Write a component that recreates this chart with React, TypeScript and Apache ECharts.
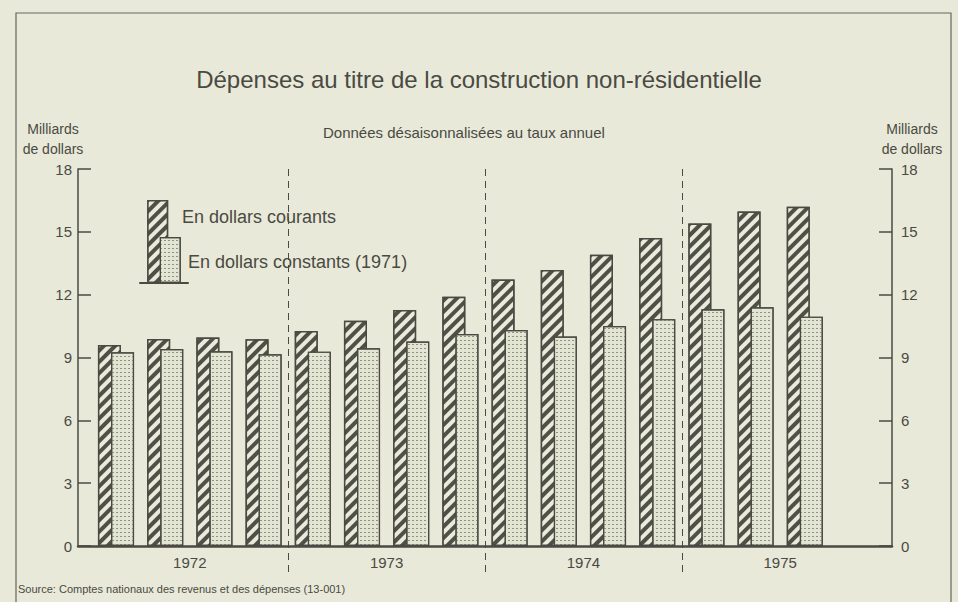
import { useEffect, useRef } from 'react';
import * as echarts from 'echarts';

// ---- data ----
const QUARTERS = [
  '1972 T1', '1972 T2', '1972 T3', '1972 T4',
  '1973 T1', '1973 T2', '1973 T3', '1973 T4',
  '1974 T1', '1974 T2', '1974 T3', '1974 T4',
  '1975 T1', '1975 T2', '1975 T3', '1975 T4',
];
const YEARS = ['1972', '1973', '1974', '1975'];
const COURANTS = [9.6, 9.88, 9.95, 9.87, 10.27, 10.75, 11.27, 11.9, 12.73, 13.18, 13.9, 14.7, 15.4, 15.97, 16.2, null];
const CONSTANTS = [9.25, 9.4, 9.3, 9.15, 9.28, 9.44, 9.76, 10.12, 10.31, 10.0, 10.5, 10.83, 11.3, 11.4, 10.95, null];
const Y_MIN = 0;
const Y_MAX = 18;
const Y_STEP = 3;

const TITLE = 'Dépenses au titre de la construction non-résidentielle';
const SUBTITLE = 'Données désaisonnalisées au taux annuel';
const UNIT = 'Milliards\nde dollars';
const LEGEND = ['En dollars courants', 'En dollars constants (1971)'];
const SOURCE = 'Source: Comptes nationaux des revenus et des dépenses (13-001)';

// ---- styles ----
const BG = '#e8e9d9';
const INK = '#4a4a43';
const DARK = '#505049';
const LIGHT = '#e3e5d3';
const FONT = '"Liberation Sans", Arial, sans-serif';

const hatchStyle = {
  color: DARK,
  borderColor: INK,
  borderWidth: 1.5,
  decal: {
    symbol: 'rect',
    symbolSize: 1,
    dashArrayX: [1, 0],
    dashArrayY: [3.6, 3.6],
    rotation: -Math.PI / 4,
    color: '#e9ebdb',
  },
};
const dotStyle = {
  color: LIGHT,
  borderColor: INK,
  borderWidth: 1.2,
  decal: {
    symbol: 'rect',
    symbolSize: 1,
    dashArrayX: [[2, 2]],
    dashArrayY: [1, 3],
    color: '#8f8f85',
  },
};

export default function App() {
  const ref = useRef<HTMLDivElement>(null);

  useEffect(() => {
    if (!ref.current) return;
    const chart = echarts.init(ref.current, undefined, { renderer: 'svg' });

    const yAxisCommon = {
      type: 'value',
      min: Y_MIN,
      max: Y_MAX,
      interval: Y_STEP,
      axisLine: { show: true, lineStyle: { color: INK, width: 1.5 } },
      axisTick: { show: true, inside: true, length: 13, lineStyle: { color: INK, width: 1.5 } },
      splitLine: { show: false },
    };

    chart.setOption({
      animation: false,
      backgroundColor: BG,
      textStyle: { fontFamily: FONT, color: INK },
      title: [
        {
          text: TITLE,
          left: 'center',
          top: 62,
          textStyle: { fontSize: 24, fontWeight: 'normal', color: INK, fontFamily: FONT },
        },
        {
          text: SUBTITLE,
          left: 318,
          top: 120,
          textStyle: { fontSize: 15, fontWeight: 'normal', color: INK, fontFamily: FONT },
        },
      ],
      grid: [
        { left: 78, right: 66, top: 169, bottom: 56 },
        { left: 91.4, right: 79.4, top: 169, bottom: 56 },
        { left: 91.4, right: 79.4, top: 169, bottom: 25 },
        { left: 140, top: 200, width: 48, height: 83 },
      ],
      xAxis: [
        {
          gridIndex: 0,
          type: 'category',
          data: [''],
          axisLine: { show: true, lineStyle: { color: INK, width: 2.5 } },
          axisTick: { show: false },
          axisLabel: { show: false },
        },
        { gridIndex: 1, type: 'category', data: QUARTERS, position: 'bottom', show: false },
        {
          gridIndex: 1,
          type: 'category',
          data: YEARS,
          position: 'bottom',
          axisLine: { show: false },
          axisTick: { show: false },
          axisLabel: { color: INK, fontSize: 15, margin: 9, fontFamily: FONT },
        },
        {
          gridIndex: 2,
          type: 'category',
          data: YEARS,
          axisLine: { show: false },
          axisTick: { show: false },
          axisLabel: { show: false },
          splitLine: {
            show: true,
            interval: 0,
            showMinLine: false,
            showMaxLine: false,
            lineStyle: { color: INK, width: 1, type: [7, 5] },
          },
        },
        {
          gridIndex: 3,
          type: 'category',
          data: ['légende'],
          axisLine: { show: true, lineStyle: { color: INK, width: 2 } },
          axisTick: { show: false },
          axisLabel: { show: false },
        },
      ],
      yAxis: [
        {
          ...yAxisCommon,
          gridIndex: 0,
          position: 'left',
          axisLabel: { color: INK, fontSize: 15, margin: 6, fontFamily: FONT },
        },
        {
          ...yAxisCommon,
          gridIndex: 0,
          position: 'right',
          axisLabel: { color: INK, fontSize: 15, margin: 9, fontFamily: FONT },
        },
        { gridIndex: 1, type: 'value', min: Y_MIN, max: Y_MAX, show: false },
        { gridIndex: 2, type: 'value', show: false },
        { gridIndex: 3, type: 'value', min: 0, max: 83, show: false },
      ],
      series: [
        {
          type: 'bar',
          name: LEGEND[0],
          xAxisIndex: 1,
          yAxisIndex: 2,
          data: COURANTS,
          barWidth: 23,
          barGap: '-43%',
          itemStyle: hatchStyle,
        },
        {
          type: 'bar',
          name: LEGEND[1],
          xAxisIndex: 1,
          yAxisIndex: 2,
          data: CONSTANTS,
          barWidth: 23,
          barGap: '-43%',
          itemStyle: dotStyle,
        },
        {
          type: 'bar',
          xAxisIndex: 4,
          yAxisIndex: 4,
          data: [83],
          barWidth: 21,
          barGap: '-40%',
          itemStyle: hatchStyle,
          silent: true,
        },
        {
          type: 'bar',
          xAxisIndex: 4,
          yAxisIndex: 4,
          data: [46],
          barWidth: 21,
          barGap: '-40%',
          itemStyle: dotStyle,
          silent: true,
        },
      ],
      graphic: [
        {
          type: 'rect',
          silent: true,
          z: -10,
          shape: { x: 16, y: 13, width: 935, height: 640 },
          style: { fill: 'none', stroke: '#66665e', lineWidth: 1.2 },
        },
        {
          type: 'text',
          x: 53,
          y: 119,
          style: { text: UNIT, align: 'center', fontSize: 14, lineHeight: 20, fill: INK, fontFamily: FONT },
        },
        {
          type: 'text',
          x: 912,
          y: 119,
          style: { text: UNIT, align: 'center', fontSize: 14, lineHeight: 20, fill: INK, fontFamily: FONT },
        },
        {
          type: 'text',
          x: 182,
          y: 217,
          style: { text: LEGEND[0], verticalAlign: 'middle', fontSize: 18, fill: INK, fontFamily: FONT },
        },
        {
          type: 'text',
          x: 188,
          y: 262,
          style: { text: LEGEND[1], verticalAlign: 'middle', fontSize: 18, fill: INK, fontFamily: FONT },
        },
        {
          type: 'text',
          x: 18,
          y: 589,
          style: { text: SOURCE, verticalAlign: 'middle', fontSize: 11, fill: INK, fontFamily: FONT },
        },
      ],
    });

    return () => chart.dispose();
  }, []);

  return (
    <div
      ref={ref}
      style={{ position: 'fixed', left: 0, top: 0, width: 958, height: 602, background: BG }}
    />
  );
}
